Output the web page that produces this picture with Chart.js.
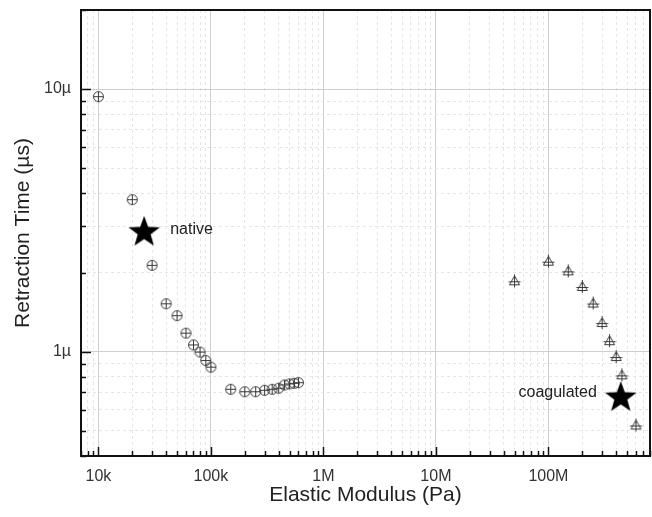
<!DOCTYPE html>
<html>
<head>
<meta charset="utf-8">
<script src="https://cdn.jsdelivr.net/npm/chart.js@4/dist/chart.umd.min.js"></script>
<style>
  html, body { margin: 0; padding: 0; background: #fff; }
  canvas { display: block; }
</style>
</head>
<body>
<canvas id="chart" width="652" height="517"></canvas>
<script>
// native samples (circles)
const nativeModulus = [10000, 20000, 30000, 40000, 50000, 60000, 70000, 80000, 90000, 100000,
  150000, 200000, 250000, 300000, 350000, 400000, 450000, 500000, 550000, 600000];
const nativeTime = [9.35, 3.79, 2.13, 1.52, 1.37, 1.175, 1.06, 0.995, 0.924, 0.872,
  0.718, 0.703, 0.703, 0.712, 0.718, 0.725, 0.746, 0.753, 0.757, 0.761];

// coagulated samples (triangles)
const coagModulus = [5e7, 1e8, 1.5e8, 2e8, 2.5e8, 3e8, 3.5e8, 4e8, 4.5e8, 6e8];
const coagTime = [1.86, 2.21, 2.03, 1.77, 1.53, 1.29, 1.10, 0.957, 0.815, 0.525];

// stars + their labels
const starModulus = [25500, 4.4e8];
const starTime = [2.87, 0.673];
const starLabels = ['native', 'coagulated'];

const xTickValues = [1e4, 1e5, 1e6, 1e7, 1e8];
const xTickLabels = ['10k', '100k', '1M', '10M', '100M'];
const yTickValues = [1, 10];
const yTickLabels = ['1µ', '10µ'];

const FONT = 'Arial, "Liberation Sans", sans-serif';

function makeIcon(w, h, draw) {
  const c = document.createElement('canvas');
  c.width = w; c.height = h;
  draw(c.getContext('2d'));
  return c;
}

const circlePlus = makeIcon(13, 13, g => {
  g.strokeStyle = '#3a3a3a';
  g.lineWidth = 1;
  g.beginPath(); g.arc(6.5, 6.5, 5, 0, Math.PI * 2); g.stroke();
  g.beginPath();
  g.moveTo(1.5, 6.5); g.lineTo(11.5, 6.5);
  g.moveTo(6.5, 1.5); g.lineTo(6.5, 11.5);
  g.stroke();
});

const trianglePlus = makeIcon(15, 15, g => {
  g.strokeStyle = '#3a3a3a';
  g.lineWidth = 1;
  g.beginPath();
  g.moveTo(7.5, 2.5); g.lineTo(12.5, 11.5); g.lineTo(2.5, 11.5); g.closePath();
  g.stroke();
  g.beginPath();
  g.moveTo(1.5, 8.5); g.lineTo(13.5, 8.5);
  g.moveTo(7.5, 1); g.lineTo(7.5, 14);
  g.stroke();
});

const starIcon = makeIcon(34, 34, g => {
  g.fillStyle = '#000';
  g.beginPath();
  for (let i = 0; i < 10; i++) {
    const r = i % 2 === 0 ? 16.5 : 6.8;
    const a = -Math.PI / 2 + i * Math.PI / 5;
    const px = 17 + r * Math.cos(a), py = 18 + r * Math.sin(a);
    if (i === 0) g.moveTo(px, py); else g.lineTo(px, py);
  }
  g.closePath();
  g.fill();
});

const isPow10 = v => Math.abs(Math.log10(v) - Math.round(Math.log10(v))) < 1e-9;

function logTicks(min, max) {
  const out = [];
  for (let e = Math.floor(Math.log10(min)); e <= Math.ceil(Math.log10(max)); e++) {
    for (let m = 1; m < 10; m++) {
      const v = m * Math.pow(10, e);
      if (v >= min * 0.999 && v <= max * 1.001) out.push({ value: v, major: false });
    }
  }
  return out;
}

function labelFor(values, labels) {
  return v => {
    const i = values.findIndex(t => Math.abs(t - v) / t < 1e-6);
    return i >= 0 ? labels[i] : '';
  };
}

// no extra padding from the end labels
function noPad(s) {
  s.paddingLeft = s.paddingRight = s.paddingTop = s.paddingBottom = 0;
}

const gridColor = ctx => (ctx.tick && isPow10(ctx.tick.value)) ? '#cfcfcf' : '#e6e6e6';
const gridDash = ctx => (ctx.tick && isPow10(ctx.tick.value)) ? [] : [3, 3];

// frame, inward tick marks and the star labels
const framePlugin = {
  id: 'frame',
  afterDatasetsDraw(chart) {
    const { ctx, chartArea: a, scales } = chart;
    ctx.save();
    ctx.strokeStyle = '#111';
    ctx.lineWidth = 1.5;
    scales.x.ticks.forEach(t => {
      const px = Math.round(scales.x.getPixelForValue(t.value)) + 0.5;
      const len = isPow10(t.value) ? 9 : 5;
      ctx.beginPath(); ctx.moveTo(px, a.bottom); ctx.lineTo(px, a.bottom - len); ctx.stroke();
    });
    scales.y.ticks.forEach(t => {
      const py = Math.round(scales.y.getPixelForValue(t.value)) + 0.5;
      const len = isPow10(t.value) ? 10 : 5;
      ctx.beginPath(); ctx.moveTo(a.left, py); ctx.lineTo(a.left + len, py); ctx.stroke();
    });
    ctx.lineWidth = 2;
    ctx.strokeRect(a.left, a.top, a.right - a.left, a.bottom - a.top);

    ctx.fillStyle = '#222';
    ctx.font = '16px ' + FONT;
    ctx.textBaseline = 'middle';
    const sx0 = scales.x.getPixelForValue(starModulus[0]);
    const sy0 = scales.y.getPixelForValue(starTime[0]);
    ctx.textAlign = 'left';
    ctx.fillText(starLabels[0], sx0 + 26, sy0 - 2);
    const sx1 = scales.x.getPixelForValue(starModulus[1]);
    const sy1 = scales.y.getPixelForValue(starTime[1]);
    ctx.textAlign = 'right';
    ctx.fillText(starLabels[1], sx1 - 24, sy1 - 4);
    ctx.restore();
  }
};

new Chart(document.getElementById('chart'), {
  type: 'scatter',
  data: {
    datasets: [
      {
        data: nativeModulus.map((x, i) => ({ x, y: nativeTime[i] })),
        pointStyle: circlePlus,
        pointRadius: 6
      },
      {
        data: coagModulus.map((x, i) => ({ x, y: coagTime[i] })),
        pointStyle: trianglePlus,
        pointRadius: 7
      },
      {
        data: starModulus.map((x, i) => ({ x, y: starTime[i] })),
        pointStyle: starIcon,
        pointRadius: 17
      }
    ]
  },
  options: {
    responsive: false,
    animation: false,
    layout: { autoPadding: false, padding: { top: 10, right: 2, left: 0, bottom: 0 } },
    plugins: { legend: { display: false }, tooltip: { enabled: false } },
    scales: {
      x: {
        type: 'logarithmic',
        min: 7000,
        max: 8e8,
        afterBuildTicks: s => { s.ticks = logTicks(s.min, s.max); },
        afterFit: s => { s.height = 61; noPad(s); },
        grid: { color: gridColor, lineWidth: 1, drawTicks: false },
        border: { display: false, dash: gridDash },
        ticks: {
          autoSkip: false,
          maxRotation: 0,
          padding: 11,
          color: '#333',
          font: { family: FONT, size: 16 },
          callback: labelFor(xTickValues, xTickLabels)
        },
        title: {
          display: true,
          text: 'Elastic Modulus (Pa)',
          color: '#222',
          font: { family: FONT, size: 21 },
          padding: { top: 0, bottom: 9 }
        }
      },
      y: {
        type: 'logarithmic',
        min: 0.4,
        max: 20,
        afterBuildTicks: s => { s.ticks = logTicks(s.min, s.max); },
        afterFit: s => { s.width = 81; noPad(s); },
        grid: { color: gridColor, lineWidth: 1, drawTicks: false },
        border: { display: false, dash: gridDash },
        ticks: {
          autoSkip: false,
          padding: 10,
          color: '#333',
          font: { family: FONT, size: 16 },
          callback: labelFor(yTickValues, yTickLabels)
        },
        title: {
          display: true,
          text: 'Retraction Time (µs)',
          color: '#222',
          font: { family: FONT, size: 21 },
          padding: { top: 11, bottom: 0 }
        }
      }
    }
  },
  plugins: [framePlugin]
});
</script>
</body>
</html>
